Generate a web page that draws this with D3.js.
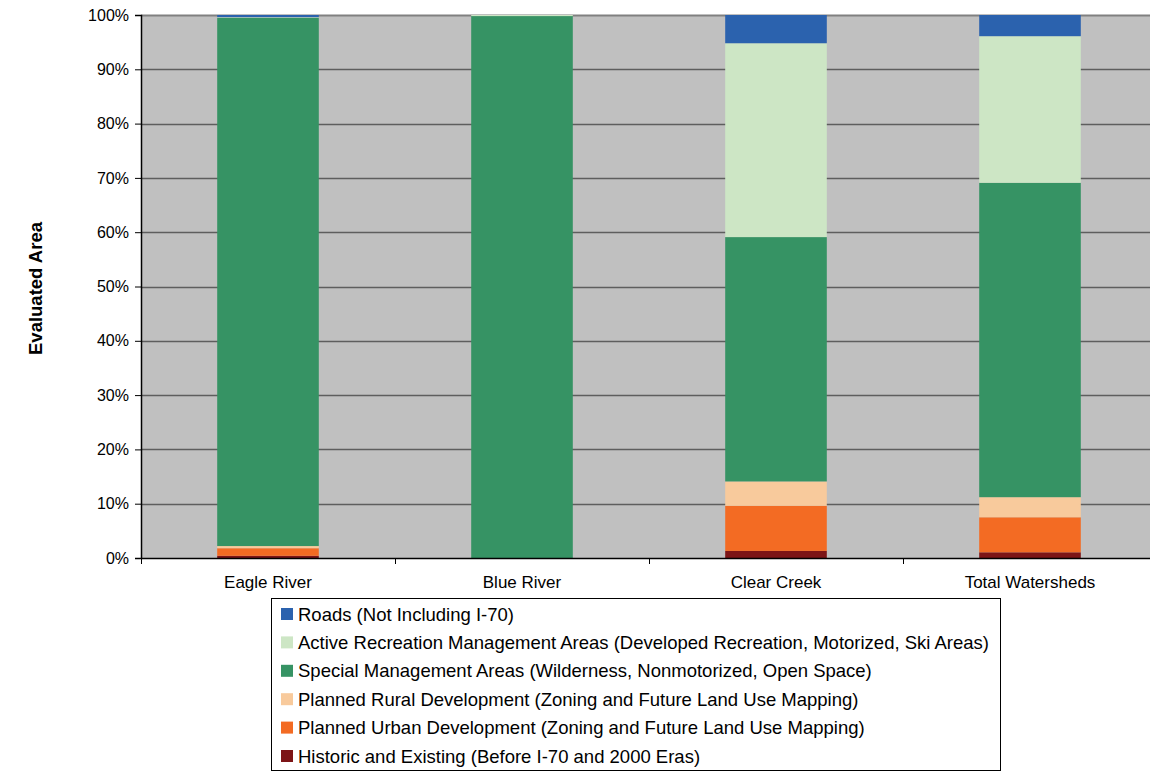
<!DOCTYPE html>
<html>
<head>
<meta charset="utf-8">
<script src="https://cdn.jsdelivr.net/npm/d3@7"></script>
<style>
  html, body { margin: 0; padding: 0; background: #ffffff; }
  svg { display: block; font-family: Arial, "Liberation Sans", sans-serif; }
</style>
</head>
<body>
<svg id="chart" width="1150" height="772"></svg>
<script>
// Watershed names along the x axis
const watersheds = ["Eagle River", "Blue River", "Clear Creek", "Total Watersheds"];

// Land-use categories, stacked bottom to top
const categories = [
  "Historic and Existing (Before I-70 and 2000 Eras)",
  "Planned Urban Development (Zoning and Future Land Use Mapping)",
  "Planned Rural Development (Zoning and Future Land Use Mapping)",
  "Special Management Areas (Wilderness, Nonmotorized, Open Space)",
  "Active Recreation Management Areas (Developed Recreation, Motorized, Ski Areas)",
  "Roads (Not Including I-70)"
];

// Share of evaluated area (%) per watershed, one array per category
const historic      = [0.4, 0.0, 1.3, 1.05];
const plannedUrban  = [1.4, 0.0, 8.3, 6.45];
const plannedRural  = [0.4, 0.0, 4.5, 3.7];
const specialMgmt   = [97.3, 99.8, 45.0, 57.9];
const activeRec     = [0.1, 0.2, 35.7, 27.0];
const roads         = [0.4, 0.0, 5.2, 3.9];

const yTicks = [0, 10, 20, 30, 40, 50, 60, 70, 80, 90, 100];

const colors = ["#7d1517", "#f36b23", "#f8ca9c", "#369364", "#cde6c5", "#2b62ae"];

const seriesValues = [historic, plannedUrban, plannedRural, specialMgmt, activeRec, roads];

const rows = watersheds.map((w, i) => {
  const r = { watershed: w };
  categories.forEach((c, k) => { r[c] = seriesValues[k][i]; });
  return r;
});

const svg = d3.select("#chart");
const plot = { left: 141, top: 15, right: 1157, bottom: 558 };

const x = d3.scaleBand().domain(watersheds).range([plot.left, plot.right]).paddingInner(0.6).paddingOuter(0.3);
const xBoundary = d3.scaleLinear().domain([0, watersheds.length]).range([plot.left, plot.right]);
const y = d3.scaleLinear().domain([0, 100]).range([plot.bottom, plot.top]);

// Plot background
svg.append("rect")
  .attr("x", plot.left).attr("y", plot.top)
  .attr("width", plot.right - plot.left).attr("height", plot.bottom - plot.top)
  .attr("fill", "#c0c0c0");

// Horizontal gridlines
svg.append("g").selectAll("line").data(yTicks.filter(t => t > 0)).join("line")
  .attr("x1", plot.left).attr("x2", plot.right)
  .attr("y1", d => Math.round(y(d)) + 0.5).attr("y2", d => Math.round(y(d)) + 0.5)
  .attr("stroke", d => d === 100 ? "#808080" : "#5e5e5e")
  .attr("stroke-width", d => d === 100 ? 2 : 1.4);

// Stacked bars
const stack = d3.stack().keys(categories);
const layers = stack(rows);
svg.append("g").selectAll("g").data(layers).join("g")
  .attr("fill", (d, i) => colors[i])
  .selectAll("rect").data(d => d).join("rect")
  .attr("x", d => x(d.data.watershed))
  .attr("width", x.bandwidth())
  .attr("y", d => y(d[1]))
  .attr("height", d => Math.max(0, y(d[0]) - y(d[1])));

// Y axis
const yAxis = d3.axisLeft(y).tickValues(yTicks).tickFormat(d => d + "%").tickSize(6).tickPadding(6);
const gy = svg.append("g").attr("transform", `translate(${plot.left},0)`).call(yAxis);
gy.select(".domain").attr("stroke", "#000").attr("stroke-width", 1.5);
gy.selectAll(".tick line").attr("stroke", "#000");
gy.selectAll(".tick text").attr("font-size", 16).attr("fill", "#000")
  .attr("font-family", "Arial, 'Liberation Sans', sans-serif");

// X axis: baseline with ticks at category boundaries
const gx = svg.append("g");
gx.append("line")
  .attr("x1", plot.left).attr("x2", plot.right)
  .attr("y1", plot.bottom + 0.5).attr("y2", plot.bottom + 0.5)
  .attr("stroke", "#000").attr("stroke-width", 1.5);
gx.selectAll("line.tk").data(d3.range(watersheds.length + 1)).join("line")
  .attr("class", "tk")
  .attr("x1", d => Math.round(xBoundary(d)) + 0.5).attr("x2", d => Math.round(xBoundary(d)) + 0.5)
  .attr("y1", plot.bottom).attr("y2", plot.bottom + 6)
  .attr("stroke", "#000");
gx.selectAll("text").data(watersheds).join("text")
  .attr("x", d => x(d) + x.bandwidth() / 2)
  .attr("y", plot.bottom + 30)
  .attr("text-anchor", "middle")
  .attr("font-size", 17)
  .text(d => d);

// Y axis title
svg.append("text")
  .attr("transform", `translate(42,${(plot.top + plot.bottom) / 2 + 2}) rotate(-90)`)
  .attr("text-anchor", "middle")
  .attr("font-size", 18.5)
  .attr("font-weight", "bold")
  .text("Evaluated Area");

// Legend (top entry is the top of the stack)
const legend = svg.append("g");
legend.append("rect")
  .attr("x", 271.5).attr("y", 598.5).attr("width", 729).attr("height", 172)
  .attr("fill", "#fff").attr("stroke", "#000");
const legendItems = categories.map((c, i) => ({ name: c, color: colors[i] })).reverse();
const li = legend.selectAll("g.item").data(legendItems).join("g")
  .attr("class", "item")
  .attr("transform", (d, i) => `translate(281,${614 + i * 28.4})`);
li.append("rect").attr("x", 0).attr("y", -6).attr("width", 12).attr("height", 12).attr("fill", d => d.color);
li.append("text").attr("x", 17).attr("y", 6.5).attr("font-size", 18.5).text(d => d.name);
</script>
</body>
</html>
